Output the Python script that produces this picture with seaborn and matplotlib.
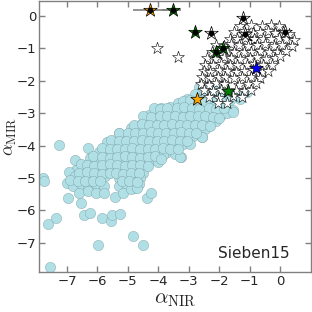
import matplotlib
matplotlib.use("Agg")
import matplotlib.pyplot as plt
import seaborn as sns
import pandas as pd

# Circles (light blue population)
circ_x = [
    -2.65, -2.35, -2.05, -1.1, -1.4,
    -3.05, -2.8, -2.5, -2.2, -1.9, -1.6, -1.3,
    -3.9, -3.6, -3.35, -3.1, -2.85, -2.6, -2.3, -2.0, -1.75, -1.55,
    -4.3, -4.05, -3.8, -3.5, -3.25, -3.0, -2.75, -2.5, -2.2, -1.95, -1.75,
    -4.6, -4.4, -4.15, -3.9, -3.65, -3.4, -3.15, -2.9, -2.6, -2.35, -2.1,
    -4.9, -4.7, -4.45, -4.2, -3.95, -3.7, -3.45, -3.2, -2.95, -2.7, -2.45,
    -5.3, -5.1, -4.85, -4.6, -4.35, -4.1, -3.85, -3.6, -3.35, -3.1, -2.85, -2.55,
    -5.7, -5.45, -5.2, -4.95, -4.7, -4.45, -4.2, -3.95, -3.7, -3.45, -3.2, -2.95,
    -6.3, -5.95, -5.7, -5.45, -5.2, -4.95, -4.7, -4.45, -4.2, -3.95, -3.7, -3.45, -3.25,
    -6.75, -6.25, -6.0, -5.75, -5.5, -5.25, -5.0, -4.75, -4.5, -4.25, -4.0, -3.85,
    -6.7, -6.45, -6.2, -5.95, -5.7, -5.45, -5.2, -4.95, -4.7, -4.5,
    -6.93, -6.75, -6.5, -6.25, -6.0, -5.75, -5.3, -5.05, -4.8, -4.6,
    -7.0, -6.8, -6.55, -6.3, -6.05, -5.8, -5.3, -5.05, -4.8, -4.65,
    -6.6, -6.3, -6.05, -5.8, -5.42, -5.15, -4.9, -4.7,
    -7.26, -7.8, -7.75, -6.97, -6.54, -6.44, -6.24, -5.85, -5.55, -5.52, -5.26,
    -7.62, -7.36, -7.56, -5.98, -4.83, -4.5, -4.37, -4.24, -3.28, -2.56, -1.54, -5.29,
    # second, offset layer of the dense body
    -3.2, -2.95, -2.7, -2.45, -2.15, -1.85, -1.65,
    -4.15, -3.95, -3.7, -3.4, -3.15, -2.9, -2.65, -2.35, -2.1, -1.85,
    -4.5, -4.25, -3.95, -3.7, -3.45, -3.2, -2.95, -2.7, -2.45, -2.2, -2.0,
    -4.8, -4.55, -4.3, -4.05, -3.8, -3.55, -3.3, -3.05, -2.8, -2.55, -2.3,
    -5.0, -4.75, -4.5, -4.25, -4.0, -3.75, -3.5, -3.25, -3.0, -2.75,
    -5.55, -5.3, -5.05, -4.8, -4.55, -4.3, -4.05, -3.8, -3.55, -3.3, -3.05,
    -5.85, -5.6, -5.35, -5.1, -4.85, -4.6, -4.35, -4.1, -3.85, -3.6, -3.35,
    -6.15, -5.85, -5.6, -5.35, -5.1, -4.85, -4.6, -4.35, -4.1, -3.9,
    -6.55, -6.35, -6.1, -5.85, -5.6, -5.35, -5.1, -4.85, -4.6, -4.35,
    -6.6, -6.35, -6.1, -5.85, -5.6, -5.4, -5.15, -4.9, -4.65,
    -6.9, -6.65, -6.4, -6.15, -5.9, -5.2, -4.95, -4.7,
]
circ_y = [
    -2.2, -2.15, -2.25, -2.35, -2.45,
    -2.55, -2.4, -2.45, -2.4, -2.5, -2.45, -2.55,
    -2.85, -2.8, -2.7, -2.75, -2.7, -2.75, -2.65, -2.75, -2.7, -2.9,
    -3.05, -2.95, -3.0, -2.95, -3.0, -2.9, -3.0, -2.95, -3.0, -3.05, -2.98,
    -3.35, -3.2, -3.25, -3.2, -3.25, -3.2, -3.2, -3.25, -3.2, -3.3, -3.25,
    -3.45, -3.55, -3.45, -3.5, -3.45, -3.5, -3.45, -3.5, -3.45, -3.55, -3.5,
    -3.6, -3.75, -3.7, -3.75, -3.7, -3.75, -3.7, -3.75, -3.7, -3.75, -3.7, -3.75,
    -3.9, -4.0, -3.95, -4.0, -3.95, -4.0, -3.95, -4.0, -3.95, -4.0, -3.95, -3.95,
    -4.08, -4.2, -4.25, -4.2, -4.25, -4.2, -4.25, -4.2, -4.25, -4.2, -4.2, -4.25, -4.35,
    -4.44, -4.38, -4.5, -4.45, -4.5, -4.45, -4.5, -4.45, -4.5, -4.45, -4.5, -4.3,
    -4.75, -4.65, -4.7, -4.75, -4.7, -4.75, -4.7, -4.75, -4.7, -4.85,
    -4.81, -4.95, -5.0, -4.95, -5.0, -4.95, -5.0, -4.95, -5.0, -5.0,
    -5.15, -5.25, -5.2, -5.25, -5.2, -5.25, -5.25, -5.2, -5.3, -5.2,
    -5.46, -5.4, -5.45, -5.45, -5.59, -5.45, -5.35, -5.3,
    -3.98, -5.0, -5.1, -5.62, -5.77, -6.14, -6.08, -6.23, -6.33, -6.14, -6.11,
    -6.42, -6.23, -7.75, -7.07, -6.79, -7.07, -5.62, -5.46, -4.35, -3.73, -2.96, -3.61,
    # second layer
    -2.62, -2.58, -2.6, -2.62, -2.58, -2.62, -2.6,
    -2.85, -2.88, -2.85, -2.85, -2.82, -2.85, -2.88, -2.85, -2.88, -2.85,
    -3.1, -3.12, -3.1, -3.08, -3.1, -3.12, -3.1, -3.08, -3.1, -3.12, -3.15,
    -3.35, -3.33, -3.35, -3.37, -3.35, -3.33, -3.35, -3.37, -3.35, -3.38, -3.4,
    -3.6, -3.62, -3.6, -3.58, -3.6, -3.62, -3.6, -3.58, -3.6, -3.62,
    -3.82, -3.85, -3.87, -3.85, -3.83, -3.85, -3.87, -3.85, -3.83, -3.85, -3.85,
    -4.08, -4.1, -4.12, -4.1, -4.08, -4.1, -4.12, -4.1, -4.08, -4.1, -4.12,
    -4.32, -4.35, -4.37, -4.35, -4.33, -4.35, -4.37, -4.35, -4.33, -4.4,
    -4.58, -4.6, -4.62, -4.6, -4.58, -4.6, -4.62, -4.6, -4.6, -4.62,
    -4.85, -4.83, -4.85, -4.87, -4.85, -4.85, -4.87, -4.85, -4.85,
    -5.05, -5.1, -5.1, -5.08, -5.1, -5.1, -5.1, -5.12,
]

# White stars
star_x = [
    -1.3, -0.95, -0.6, -0.3, -0.05,
    -1.5, -1.2, -0.9, -0.65, -0.4, -0.15, 0.1, 0.3,
    -1.65, -1.4, -1.15, -0.85, -0.55, -0.3, -0.05, 0.2, 0.45,
    -2.1, -1.85, -1.6, -1.35, -1.05, -0.75, -0.5, -0.2, 0.05, 0.4,
    -2.25, -2.0, -1.75, -1.5, -1.2, -0.95, -0.65, -0.35, -0.1, 0.2,
    -2.4, -2.15, -1.85, -1.6, -1.3, -1.0, -0.75, -0.45, -0.15, 0.0,
    -2.45, -2.2, -1.95, -1.65, -1.4, -1.1, -0.85, -0.55, -0.25,
    -2.5, -2.3, -2.0, -1.75, -1.45, -1.2, -0.9, -0.6, -0.4,
    -2.55, -2.3, -2.05, -1.8, -1.5, -1.25, -0.95, -0.65,
    -2.6, -2.35, -2.1, -1.85, -1.35, -1.05, -0.8,
    -2.5, -2.2, -1.95, -1.45, -1.2, -0.95,
    -2.35, -2.0, -1.55, -1.25,
    -2.05, -1.75,
    -4.04, -3.35,
]
star_y = [
    -0.3, -0.28, -0.3, -0.28, -0.32,
    -0.5, -0.48, -0.52, -0.5, -0.48, -0.52, -0.5, -0.55,
    -0.7, -0.72, -0.68, -0.7, -0.72, -0.7, -0.68, -0.72, -0.75,
    -0.9, -0.92, -0.88, -0.9, -0.92, -0.9, -0.88, -0.92, -0.9, -0.92,
    -1.1, -1.12, -1.08, -1.1, -1.12, -1.1, -1.08, -1.12, -1.1, -1.08,
    -1.3, -1.32, -1.28, -1.3, -1.32, -1.3, -1.28, -1.32, -1.3, -1.25,
    -1.5, -1.52, -1.48, -1.5, -1.52, -1.5, -1.48, -1.52, -1.5,
    -1.7, -1.72, -1.68, -1.7, -1.72, -1.7, -1.68, -1.72, -1.7,
    -1.9, -1.92, -1.88, -1.9, -1.92, -1.9, -1.88, -1.92,
    -2.1, -2.12, -2.08, -2.1, -2.12, -2.1, -2.08,
    -2.3, -2.32, -2.28, -2.3, -2.32, -2.3,
    -2.5, -2.52, -2.48, -2.5,
    -2.7, -2.68,
    -0.99, -1.27,
]

# Highlighted stars
hl_x = [-4.27, -3.51, -2.79, -2.26, -1.87, -2.1, -1.21, -1.14, 0.17, -0.78, -2.72, -1.7]
hl_y = [0.19, 0.19, -0.49, -0.52, -0.99, -1.11, -0.06, -0.56, -0.49, -1.6, -2.56, -2.31]
hl_color = ["orange", "green", "green", "white", "green", "green",
            "white", "white", "white", "blue", "orange", "green"]
hl_dot = [True, True, True, True, True, True, True, True, True, False, False, False]

# Horizontal error bars on the top two stars
err_x = [-4.27, -3.51]
err_y = [0.19, 0.19]
err_lo = [0.55, 0.38]
err_hi = [0.55, 0.25]

# Partly hidden black dots inside the star cloud
hid_x = [-0.95, -0.8]
hid_y = [-0.68, -0.83]

sns.set_style("ticks")
plt.rcParams["mathtext.fontset"] = "cm"

fig = plt.figure(figsize=(3.12, 3.12), dpi=100)
ax = fig.add_axes([0.125, 0.128, 0.872, 0.869])

df_c = pd.DataFrame({"x": circ_x, "y": circ_y})
df_s = pd.DataFrame({"x": star_x, "y": star_y})
df_h = pd.DataFrame({"x": hl_x, "y": hl_y, "c": hl_color, "dot": hl_dot})

sns.scatterplot(data=df_c, x="x", y="y", ax=ax, s=55, color="#b0e0e6",
                edgecolor="#7a9fa3", linewidth=0.3, zorder=2)
sns.scatterplot(x=hid_x, y=hid_y, ax=ax, s=14, color="black", linewidth=0, zorder=2.5)
sns.scatterplot(data=df_s, x="x", y="y", ax=ax, marker="*", s=80, color="white",
                edgecolor="black", linewidth=0.4, zorder=3)

ax.errorbar(err_x, err_y, xerr=[err_lo, err_hi], fmt="none", ecolor="gray",
            elinewidth=1.2, zorder=3.5)
for _, r in df_h.iterrows():
    ax.scatter(r["x"], r["y"], marker="*", s=105, color=r["c"],
               edgecolor="black", linewidth=0.5, zorder=4)
dots = df_h[df_h["dot"]]
sns.scatterplot(data=dots, x="x", y="y", ax=ax, s=18, color="black", linewidth=0, zorder=5)

ax.set_xlim(-7.92, 1.02)
ax.set_ylim(-7.9, 0.46)
ax.set_xticks(range(-7, 1))
ax.set_yticks(range(-7, 1))
ax.tick_params(direction="in", top=True, right=True, labeltop=False,
               labelright=False, length=4, width=1, color="gray", labelsize=9.5, pad=2)
for sp in ax.spines.values():
    sp.set_color("gray")
    sp.set_linewidth(1)

ax.set_xlabel(r"$\alpha_{\rm NIR}$", fontsize=15, labelpad=1)
ax.set_ylabel(r"$\alpha_{\rm MIR}$", fontsize=13)
ax.yaxis.set_label_coords(-0.075, 0.5)
ax.text(0.92, 0.068, "Sieben15", transform=ax.transAxes, ha="right",
        va="center", fontsize=11)

fig.savefig("out.png", dpi=100)
